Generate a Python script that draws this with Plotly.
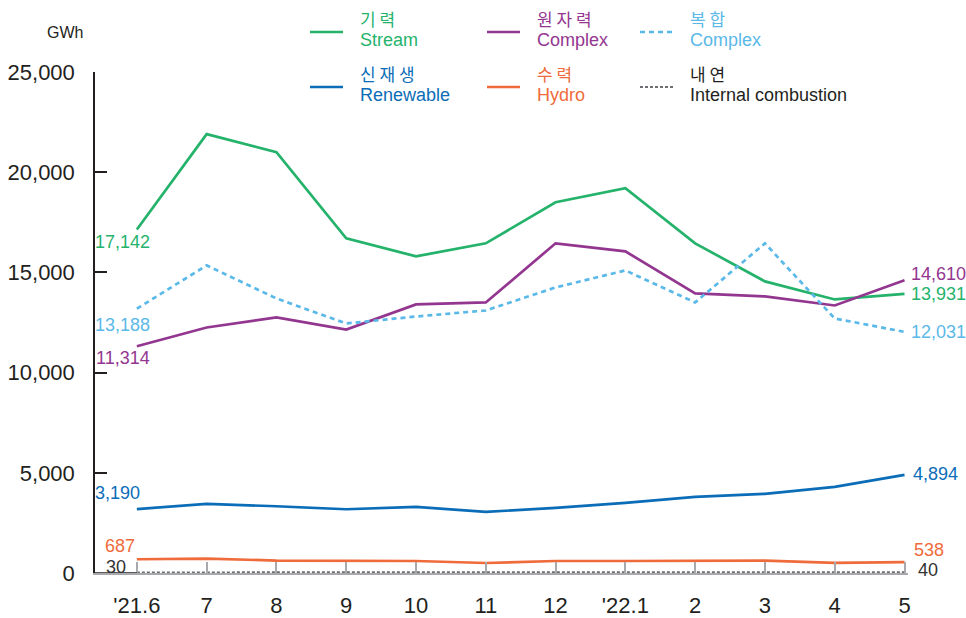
import plotly.graph_objects as go

months = ["'21.6", "7", "8", "9", "10", "11", "12", "'22.1", "2", "3", "4", "5"]
steam = [17142, 21900, 21000, 16700, 15800, 16450, 18500, 19200, 16450, 14550, 13650, 13931]
nuclear = [11314, 12250, 12750, 12150, 13400, 13500, 16450, 16050, 13950, 13800, 13350, 14610]
combined = [13188, 15350, 13700, 12450, 12800, 13100, 14250, 15100, 13500, 16450, 12700, 12031]
renewable = [3190, 3450, 3330, 3180, 3300, 3050, 3250, 3500, 3800, 3950, 4300, 4894]
hydro = [687, 720, 620, 610, 600, 500, 600, 600, 600, 620, 510, 538]
internal = [30, 32, 33, 33, 34, 35, 35, 36, 37, 38, 39, 40]
y_ticks = [0, 5000, 10000, 15000, 20000, 25000]

series = [
    # name_ko, name_en, values, color, dash, width
    ("기 력", "Stream", steam, "#25b36c", "solid", 2.7),
    ("원 자 력", "Complex", nuclear, "#93368f", "solid", 2.7),
    ("복 합", "Complex", combined, "#5ab9e8", "5px,4px", 2.7),
    ("신 재 생", "Renewable", renewable, "#0b6db7", "solid", 2.7),
    ("수 력", "Hydro", hydro, "#ef6b3b", "solid", 2.7),
    ("내 연", "Internal combustion", internal, "#6d6e71", "3px,2px", 2.0),
]

x = list(range(len(months)))
fig = go.Figure()
for ko, en, vals, col, dash, w in series:
    fig.add_trace(go.Scatter(x=x, y=vals, mode="lines", name=en,
                             line=dict(color=col, dash=dash, width=w),
                             showlegend=False, cliponaxis=False,
                             hoverinfo="skip"))

FONT = "Liberation Sans, Arial, sans-serif"
KFONT = "Noto Sans CJK KR, Liberation Sans, sans-serif"

def fmt(v):
    return f"{v:,}"

ann = []
# start labels (first point): values, color, xshift (right edge), yshift (center)
start_cfg = [
    (steam, "#25b36c", 15, -13),
    (combined, "#5ab9e8", 15, -16),
    (nuclear, "#93368f", 15, -12),
    (renewable, "#0b6db7", 5, 16),
    (hydro, "#ef6b3b", 0, 13),
    (internal, "#333333", -9, 5),
]
for vals, col, xshift, yshift in start_cfg:
    ann.append(dict(x=0, y=vals[0], xref="x", yref="y", text=fmt(vals[0]),
                    showarrow=False, xanchor="right", yanchor="middle",
                    xshift=xshift, yshift=yshift,
                    font=dict(size=18, color=col, family=FONT)))
# end labels: values, color, xshift (left edge), yshift (center)
end_cfg = [
    (nuclear, "#93368f", 4, 6),
    (steam, "#25b36c", 4, 0),
    (combined, "#5ab9e8", 4, 0),
    (renewable, "#0b6db7", 6, 1),
    (hydro, "#ef6b3b", 7, 12),
    (internal, "#333333", 11, 2),
]
for vals, col, xshift, yshift in end_cfg:
    ann.append(dict(x=len(months) - 1, y=vals[-1], xref="x", yref="y",
                    text=fmt(vals[-1]), showarrow=False, xanchor="left",
                    yanchor="middle", xshift=xshift, yshift=yshift,
                    font=dict(size=18, color=col, family=FONT)))

W, H = 966, 618
ML, MR, MT, MB = 95, 58, 72, 45
PW, PH = W - ML - MR, H - MT - MB
def px(xp):  # window pixel -> paper
    return (xp - ML) / PW
def py(yp):
    return (H - MB - yp) / PH

ann.append(dict(x=px(65), y=py(33), xref="paper", yref="paper", text="GWh",
                showarrow=False, xanchor="center", yanchor="middle",
                font=dict(size=16, color="#231f20", family=FONT)))

shapes = []
leg_pos = [(310, 32), (487, 32), (640, 32), (310, 87), (487, 87), (640, 87)]
for (ko, en, vals, col, dash, w), (lx, ly) in zip(series, leg_pos):
    shapes.append(dict(type="line", xref="paper", yref="paper",
                       x0=px(lx), x1=px(lx + 33), y0=py(ly), y1=py(ly),
                       line=dict(color=col, width=w, dash=dash)))
    tcol = "#231f20" if en == "Internal combustion" else col
    ann.append(dict(x=px(lx + 48), y=py(ly - 14), xref="paper", yref="paper",
                    text=ko, showarrow=False, xanchor="left", yanchor="middle",
                    font=dict(size=17, color=tcol, family=KFONT)))
    ann.append(dict(x=px(lx + 48), y=py(ly + 8), xref="paper", yref="paper",
                    text=en, showarrow=False, xanchor="left", yanchor="middle",
                    font=dict(size=18, color=tcol, family=FONT)))

# black segment of baseline from y axis to first month
shapes.append(dict(type="line", xref="x", yref="y", x0=-0.6, x1=0, y0=0, y1=0,
                   line=dict(color="#231f20", width=1.5)))

fig.update_layout(
    width=W, height=H,
    margin=dict(l=ML, r=MR, t=MT, b=MB),
    paper_bgcolor="white", plot_bgcolor="white",
    annotations=ann, shapes=shapes, hovermode=False,
    xaxis=dict(range=[-0.6, 11.05], tickvals=x, ticktext=months,
               automargin=False,
               showgrid=False, zeroline=False, showline=True,
               linecolor="#a7a9ac", linewidth=2, ticks="inside", ticklen=11,
               tickwidth=2, tickcolor="#a7a9ac", ticklabelstandoff=12,
               tickfont=dict(size=22, color="#231f20", family=FONT)),
    yaxis=dict(range=[0, 25000], tickvals=y_ticks, tickformat=",",
               automargin=False,
               showgrid=False, zeroline=False, showline=True,
               linecolor="#231f20", linewidth=1.5, ticks="inside", ticklen=12,
               tickwidth=1.5, tickcolor="#231f20", ticklabelstandoff=14,
               tickfont=dict(size=22, color="#231f20", family=FONT)),
)
fig.write_html(
    "out.html",
    config={"displayModeBar": False},
    post_script="document.body.style.margin='0';document.body.style.overflow='hidden';",
)
